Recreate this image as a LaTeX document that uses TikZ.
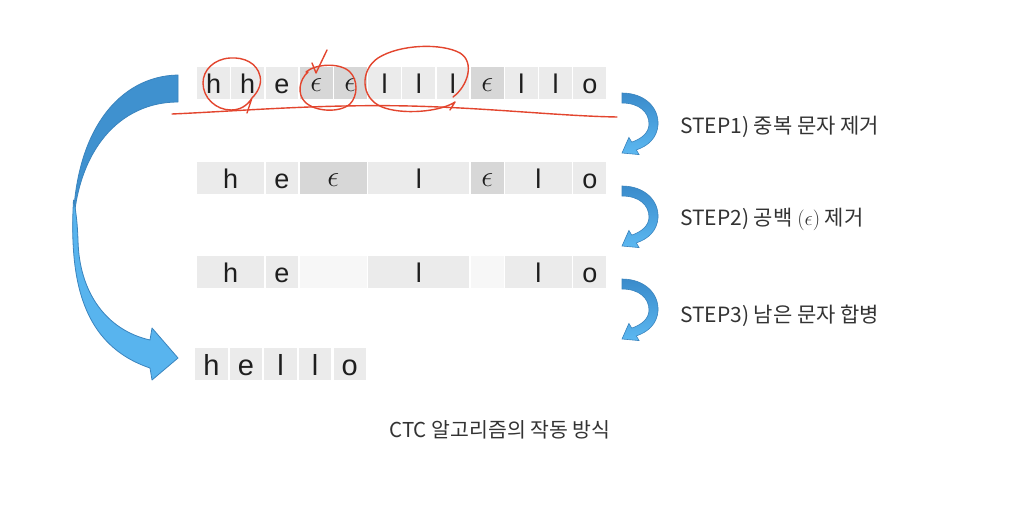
\documentclass[tikz,border=0pt]{standalone}
\usepackage{fontspec}
\setmainfont{Liberation Sans}
\newfontfamily\krfont{Noto Sans CJK KR}
\definecolor{cellg}{HTML}{EBEBEB}
\definecolor{celld}{HTML}{D7D7D7}
\definecolor{cellw}{HTML}{F7F7F7}
\definecolor{txt}{HTML}{1E1E1E}
\definecolor{labeltxt}{HTML}{333333}
\definecolor{redpen}{HTML}{E3452E}
\definecolor{bluetop}{HTML}{3A8BCB}
\definecolor{bluebot}{HTML}{5CB8F1}
\definecolor{blueedge}{HTML}{3A84BE}
\definecolor{bigdark}{HTML}{3F91CF}
\definecolor{biglight}{HTML}{58B4EE}
\newcommand\epsglyph{\raisebox{2pt}{\scalebox{1.2}{$\epsilon$}}}
\newcommand\epsparen{\scalebox{1.0}{$(\epsilon)$}}
\begin{document}
\begin{tikzpicture}[x=1pt,y=-1pt,
  cellbox/.style={anchor=north west, inner sep=0pt, draw=none, minimum height=32pt,
    text height=22pt, text depth=2pt, font=\fontsize{27}{27}\selectfont, text=txt},
  bigcell/.style={cellbox, text height=24pt, text depth=2pt, font=\fontsize{29}{29}\selectfont},
  pen/.style={draw=redpen, line width=1.4pt, line cap=round, line join=round},
  steplabel/.style={anchor=west, inner sep=0pt, font=\krfont\fontsize{21}{24}\selectfont, text=labeltxt},
  captionlabel/.style={anchor=center, inner sep=0pt, font=\krfont\fontsize{20.5}{24}\selectfont, text=labeltxt},
  bluearrow/.style={top color=bluetop, bottom color=bluebot, draw=blueedge, line width=0.6pt},
  bigarrow/.style={draw=blueedge, line width=0.8pt, line join=round},
]
\useasboundingbox (0,0) rectangle (1014,506);
\fill[white] (0,0) rectangle (1014,506);

% Row 1
\foreach \i/\t/\c in {0/h/cellg,1/h/cellg,2/e/cellg,3/{\epsglyph}/celld,4/{\epsglyph}/celld,
  5/l/cellg,6/l/cellg,7/l/cellg,8/{\epsglyph}/celld,9/l/cellg,10/l/cellg,11/o/cellg}{
  \pgfmathsetmacro\xx{197+34.2*\i}
  \node[cellbox, fill=\c, minimum width=32.7pt] (r1c\i) at (\xx,67) {\t};
}
% Row 2
\foreach \s/\n/\t/\c in {0/2/h/cellg,2/1/e/cellg,3/2/{\epsglyph}/celld,5/3/l/cellg,
  8/1/{\epsglyph}/celld,9/2/l/cellg,11/1/o/cellg}{
  \pgfmathsetmacro\xx{197+34.2*\s}
  \pgfmathsetmacro\ww{34.2*\n-1.5}
  \node[cellbox, fill=\c, minimum width=\ww pt] (r2c\s) at (\xx,162) {\t};
}
% Row 3
\foreach \s/\n/\t/\c in {0/2/h/cellg,2/1/e/cellg,3/2/{}/cellw,5/3/l/cellg,
  8/1/{}/cellw,9/2/l/cellg,11/1/o/cellg}{
  \pgfmathsetmacro\xx{197+34.2*\s}
  \pgfmathsetmacro\ww{34.2*\n-1.5}
  \node[cellbox, fill=\c, minimum width=\ww pt] (r3c\s) at (\xx,256) {\t};
}
% Row 4
\foreach \i/\t in {0/h,1/e,2/l,3/l,4/o}{
  \pgfmathsetmacro\xx{195+34.6*\i}
  \node[bigcell, fill=cellg, minimum width=32.3pt] (r4c\i) at (\xx,348) {\t};
}

% Big curved arrow on the left
\filldraw[bigarrow, fill=bigdark] (178,75) .. controls (120,76) and (73,130) .. (73,232)
  .. controls (76,150) and (120,102) .. (178,102) -- cycle;
\filldraw[bigarrow, fill=biglight] (73.5,200) .. controls (69,280) and (82,345) .. (150,368)
  -- (152,380) -- (178,358) -- (152,328) -- (150,340)
  .. controls (106,330) and (79,292) .. (78,240)
  .. controls (77.5,225) and (76,210) .. (73.5,200) -- cycle;

% Small step arrows
\foreach \yy in {93,186,279}{
  \begin{scope}[shift={(622,\yy)}]
    \shadedraw[bluearrow] (0,0) .. controls (22,0) and (37,14) .. (36,32)
      .. controls (35,45) and (26,53) .. (14.3,56.9) -- (17.1,61.6) -- (0,60)
      -- (6.9,44.4) -- (9.7,49.1) .. controls (19,46) and (27,40) .. (27,31)
      .. controls (27,19) and (17,10) .. (0,10) -- cycle;
  \end{scope}
}

% Step labels
\node[steplabel] (step1) at (680,127) {STEP1) 중복 문자 제거};
\node[steplabel] (step2) at (680,219) {STEP2) 공백 \epsparen{} 제거};
\node[steplabel] (step3) at (680,316) {STEP3) 남은 문자 합병};

% Caption
\node[captionlabel] (caption) at (500,430) {CTC 알고리즘의 작동 방식};

% Red hand-drawn annotations
\draw[pen] (252,98) .. controls (258,92) and (262,84) .. (260,76)
  .. controls (257,63) and (244,57) .. (230,58)
  .. controls (214,59) and (203,70) .. (203,83)
  .. controls (203,98) and (216,110) .. (231,110)
  .. controls (240,110) and (247,106) .. (252,98) -- (247,113);
\draw[pen] (306,72) .. controls (315,64) and (340,62) .. (350,72)
  .. controls (358,80) and (358,96) .. (350,104)
  .. controls (340,113) and (315,112) .. (305,102)
  .. controls (297,94) and (299,80) .. (308,72);
\draw[pen] (312,63) -- (316,73) -- (327,50);
\draw[pen] (453,97) .. controls (468,86) and (475,62) .. (460,53)
  .. controls (442,43) and (400,44) .. (378,58)
  .. controls (360,70) and (360,98) .. (382,107)
  .. controls (402,115) and (440,112) .. (455,102) -- (450,110);
\draw[pen] (172,114) .. controls (240,111) and (320,104) .. (410,106)
  .. controls (490,108) and (560,116) .. (617,117);
\end{tikzpicture}
\end{document}
